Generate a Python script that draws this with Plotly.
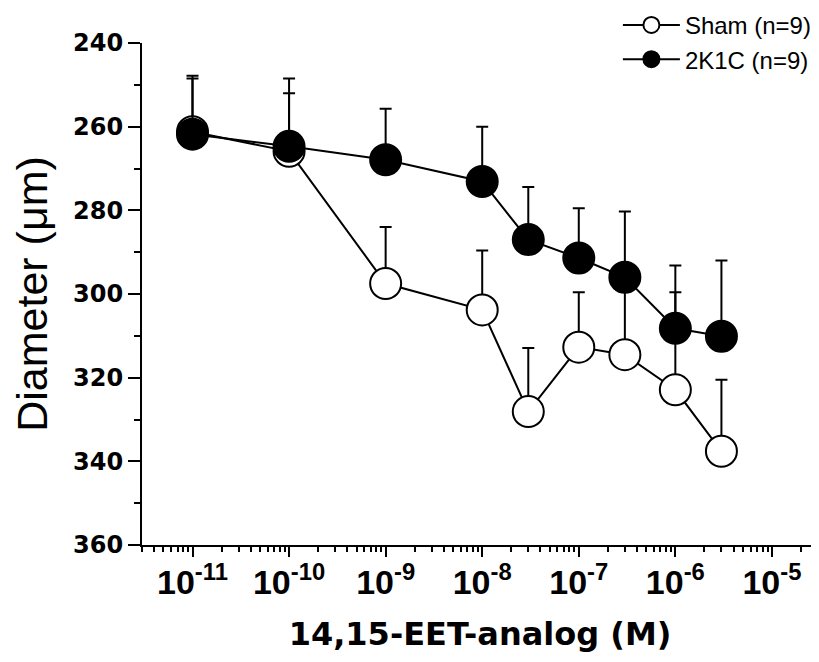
import plotly.graph_objects as go

# Concentrations (M)
conc = [1e-11, 1e-10, 1e-9, 1e-8, 3e-8, 1e-7, 3e-7, 1e-6, 3e-6]

# Diameter (um) - Sham
sham = [261.2, 265.9, 297.5, 303.8, 328.1, 312.7, 314.5, 322.9, 337.6]
sham_err = [12.7, 13.9, 13.5, 14.2, 15.2, 13.1, 18.5, 23.3, 17.1]

# Diameter (um) - 2K1C
k2 = [261.8, 264.7, 267.9, 273.1, 287.0, 291.4, 296.0, 308.2, 310.1]
k2_err = [14.0, 16.2, 12.2, 13.1, 12.6, 11.9, 15.7, 15.0, 18.1]

x_tickvals = [1e-11, 1e-10, 1e-9, 1e-8, 1e-7, 1e-6, 1e-5]
x_ticktext = ["10<sup>-11</sup>", "10<sup>-10</sup>", "10<sup>-9</sup>", "10<sup>-8</sup>",
              "10<sup>-7</sup>", "10<sup>-6</sup>", "10<sup>-5</sup>"]
y_tickvals = [240, 260, 280, 300, 320, 340, 360]

x_min, x_max = 3e-12, 3e-5
minor_vals = [m * 10.0 ** e for e in range(-12, -4) for m in range(2, 10)
              if x_min * 0.999 <= m * 10.0 ** e <= x_max * 1.001]

fig = go.Figure()

fig.add_trace(go.Scatter(
    x=conc, y=sham, name="Sham (n=9)", mode="lines+markers",
    line=dict(color="black", width=2),
    marker=dict(symbol="circle", size=31, color="white", line=dict(color="black", width=2)),
    error_y=dict(type="data", symmetric=False, array=[0] * len(sham), arrayminus=sham_err,
                 color="black", thickness=2, width=6),
))
fig.add_trace(go.Scatter(
    x=conc, y=k2, name="2K1C (n=9)", mode="lines+markers",
    line=dict(color="black", width=2),
    marker=dict(symbol="circle", size=31, color="black", line=dict(color="black", width=2)),
    error_y=dict(type="data", symmetric=False, array=[0] * len(k2), arrayminus=k2_err,
                 color="black", thickness=2, width=6),
))

# The page body has an 8px margin, so the figure is sized to fit the 819x662 window.
fig.update_layout(
    width=811, height=654,
    margin=dict(l=134, r=1, t=35, b=117, autoexpand=False),
    paper_bgcolor="white", plot_bgcolor="white",
    showlegend=True,
    legend=dict(
        x=0.704, xanchor="left", y=1.08, yanchor="top",
        font=dict(family="Liberation Sans, Arial, sans-serif", size=24, color="black"),
        bgcolor="rgba(0,0,0,0)", itemwidth=57, tracegroupgap=0,
    ),
)

fig.update_xaxes(
    type="log", range=[-11.5229, -4.5229],
    tickvals=x_tickvals, ticktext=x_ticktext,
    ticks="outside", ticklen=10, tickwidth=2, tickcolor="black",
    showline=True, linecolor="black", linewidth=2,
    showgrid=False, zeroline=False,
    ticklabelstandoff=-4,
    tickfont=dict(family="Liberation Sans, Arial, sans-serif", size=34, color="black", weight="bold"),
    minor=dict(tickvals=minor_vals, ticks="outside", ticklen=5, tickwidth=2, tickcolor="black", showgrid=False),
    title=dict(text="<b>14,15-EET-analog (M)</b>", standoff=23,
               font=dict(family="DejaVu Sans, sans-serif", size=32, color="black")),
)

fig.update_yaxes(
    range=[360, 240], tickvals=y_tickvals,
    ticks="outside", ticklen=12, tickwidth=2, tickcolor="black",
    showline=True, linecolor="black", linewidth=2,
    showgrid=False, zeroline=False,
    tickfont=dict(family="DejaVu Sans, sans-serif", size=24, color="black", weight="bold"),
    minor=dict(dtick=10, ticks="outside", ticklen=6, tickwidth=2, tickcolor="black", showgrid=False),
    title=dict(text="Diameter (μm)", standoff=14,
               font=dict(family="Liberation Sans, Arial, sans-serif", size=43, color="black")),
)

fig.write_html("out.html")
